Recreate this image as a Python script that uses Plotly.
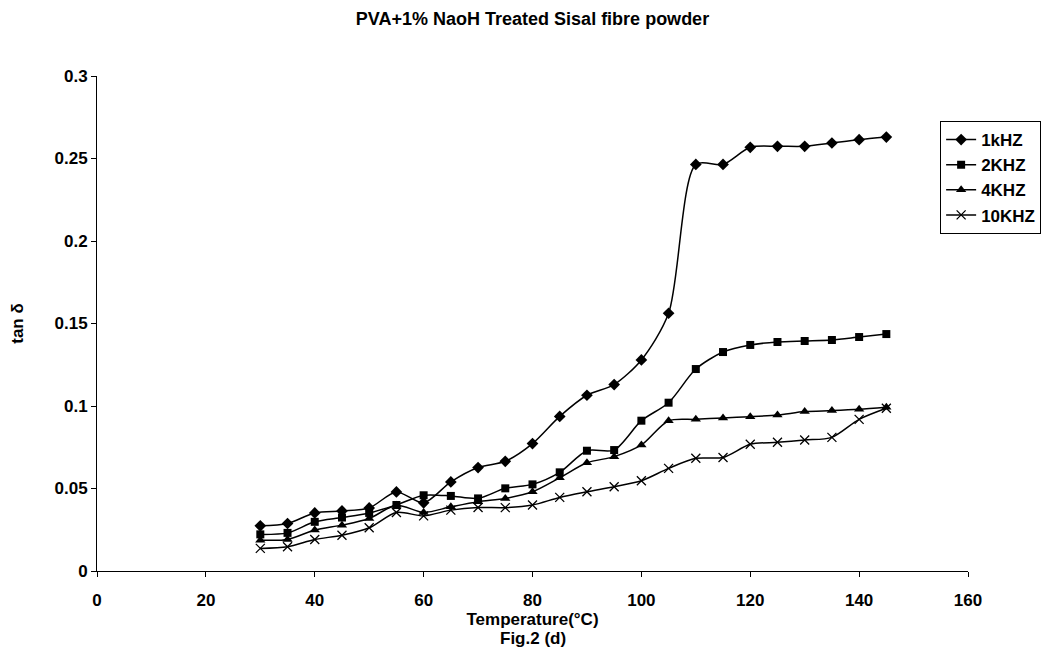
import plotly.graph_objects as go

temperature = [30, 35, 40, 45, 50, 55, 60, 65, 70, 75, 80, 85, 90, 95, 100, 105, 110, 115, 120, 125, 130, 135, 140, 145]

tan_1k = [0.0274, 0.0288, 0.0352, 0.0364, 0.0382, 0.0479, 0.0413, 0.054, 0.0627, 0.0665, 0.0772, 0.0937, 0.1065, 0.1130,
          0.1279, 0.1562, 0.2464, 0.2464, 0.2568, 0.2574, 0.2574, 0.2594, 0.2614, 0.2630]
tan_2k = [0.0222, 0.0231, 0.0298, 0.0324, 0.0352, 0.0400, 0.0459, 0.0455, 0.0440, 0.0501, 0.0525, 0.0598, 0.0729, 0.0733,
          0.0911, 0.1020, 0.1224, 0.1327, 0.1370, 0.1388, 0.1394, 0.1400, 0.1418, 0.1436]
tan_4k = [0.0187, 0.0191, 0.0248, 0.0278, 0.0318, 0.0399, 0.0355, 0.0389, 0.0420, 0.0440, 0.0480, 0.0565, 0.0656, 0.0693,
          0.0764, 0.0911, 0.0919, 0.0928, 0.0935, 0.0945, 0.0966, 0.0972, 0.0980, 0.0992]
tan_10k = [0.0137, 0.0147, 0.0191, 0.0217, 0.0262, 0.0355, 0.0334, 0.0369, 0.0385, 0.0384, 0.0400, 0.0446, 0.0480, 0.0511,
           0.0547, 0.0622, 0.0683, 0.0688, 0.0768, 0.0780, 0.0794, 0.0810, 0.0919, 0.0986]

series_names = ["1kHZ", "2KHZ", "4KHZ", "10KHZ"]
series_values = [tan_1k, tan_2k, tan_4k, tan_10k]
x_ticks = [0, 20, 40, 60, 80, 100, 120, 140, 160]
y_ticks = [0, 0.05, 0.1, 0.15, 0.2, 0.25, 0.3]

FONT = "Liberation Sans, Arial, sans-serif"

marker_styles = [
    dict(symbol="diamond", size=9, color="black"),
    dict(symbol="square", size=8, color="black"),
    dict(symbol="triangle-up", size=9, color="black"),
    dict(symbol="x-thin", size=9, color="black", line=dict(color="black", width=1.3)),
]

fig = go.Figure()
for name, vals, mk in zip(series_names, series_values, marker_styles):
    fig.add_trace(go.Scatter(
        x=temperature, y=vals, name=name, mode="lines+markers",
        line=dict(color="black", width=1.5, shape="spline", smoothing=0.8),
        marker=mk,
    ))

fig.update_layout(
    width=1049, height=658,
    paper_bgcolor="white", plot_bgcolor="white",
    margin=dict(l=89, r=89, t=68, b=95, autoexpand=False),
    font=dict(family=FONT, color="black", size=17),
    title=dict(text="<b>PVA+1% NaoH Treated Sisal fibre powder</b>", x=0.5, xanchor="center",
               xref="paper", y=1 - 11 / 658, yanchor="middle", font=dict(size=18, family=FONT)),
    showlegend=True,
    legend=dict(x=0.968, y=0.909, xanchor="left", yanchor="top",
                bordercolor="black", borderwidth=1, bgcolor="white",
                font=dict(size=17, family=FONT, weight="bold"),
                tracegroupgap=0, itemwidth=30),
    annotations=[dict(text="<b>Fig.2 (d)</b>", xref="paper", yref="paper", x=0.5, y=-0.137,
                      xanchor="center", yanchor="middle", showarrow=False,
                      font=dict(size=17, family=FONT))],
)

fig.update_xaxes(
    range=[0, 160], tickvals=x_ticks, ticktext=[f"<b>{v}</b>" for v in x_ticks],
    showgrid=False, zeroline=False, showline=True, linecolor="black", linewidth=1,
    ticks="outside", ticklen=5, tickcolor="black", tickfont=dict(size=17), ticklabelstandoff=9,
    title=dict(text="<b>Temperature(°C)</b>", font=dict(size=17), standoff=2),
)
fig.update_yaxes(
    range=[0, 0.3], tickvals=y_ticks, ticktext=[f"<b>{v:g}</b>" for v in y_ticks],
    showgrid=False, zeroline=False, showline=True, linecolor="black", linewidth=1,
    ticks="outside", ticklen=5, tickcolor="black", tickfont=dict(size=17),
    title=dict(text="<b>tan δ</b>", font=dict(size=17), standoff=30),
)

fig.write_html("out.html")
